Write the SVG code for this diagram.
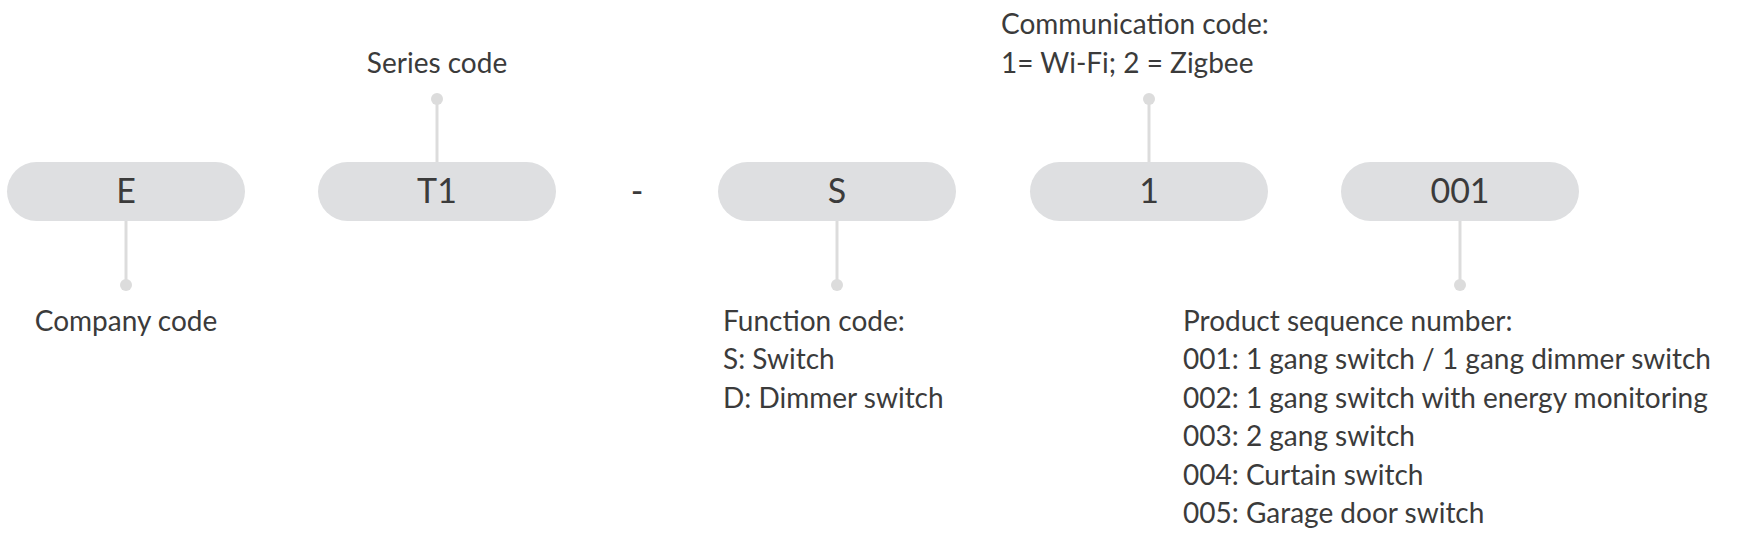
<svg xmlns="http://www.w3.org/2000/svg" width="1737" height="540" viewBox="0 0 1737 540">
<style>
.pill{fill:#dedfe1}
.code{font-family:Lato,"Liberation Sans",sans-serif;font-size:34px;fill:#3b3b3b;text-anchor:middle}
.lbl{font-family:Lato,"Liberation Sans",sans-serif;font-size:28px;fill:#3b3b3b}
.ln{stroke:#dcdcdc;stroke-width:3}
.dot{fill:#dcdcdc}
</style>
<rect width="1737" height="540" fill="#fff"/>
<g id="connectors">
<line class="ln" x1="126" y1="221" x2="126" y2="285"/><circle class="dot" cx="126" cy="285" r="6"/>
<line class="ln" x1="437" y1="162" x2="437" y2="99"/><circle class="dot" cx="437" cy="99" r="6"/>
<line class="ln" x1="837" y1="221" x2="837" y2="285"/><circle class="dot" cx="837" cy="285" r="6"/>
<line class="ln" x1="1149" y1="162" x2="1149" y2="99"/><circle class="dot" cx="1149" cy="99" r="6"/>
<line class="ln" x1="1460" y1="221" x2="1460" y2="285"/><circle class="dot" cx="1460" cy="285" r="6"/>
</g>
<g id="node-E"><rect class="pill" x="7" y="162" width="238" height="59" rx="29.5"/><text class="code" x="126" y="203">E</text></g>
<g id="node-T1"><rect class="pill" x="318" y="162" width="238" height="59" rx="29.5"/><text class="code" x="437" y="203">T1</text></g>
<g id="dash"><text class="code" x="637" y="203">-</text></g>
<g id="node-S"><rect class="pill" x="718" y="162" width="238" height="59" rx="29.5"/><text class="code" x="837" y="203">S</text></g>
<g id="node-1"><rect class="pill" x="1030" y="162" width="238" height="59" rx="29.5"/><text class="code" x="1149" y="203">1</text></g>
<g id="node-001"><rect class="pill" x="1341" y="162" width="238" height="59" rx="29.5"/><text class="code" x="1460" y="203">001</text></g>
<g id="labels">
<text class="lbl" x="126" y="331" text-anchor="middle">Company code</text>
<text class="lbl" x="437" y="73" text-anchor="middle">Series code</text>
<text class="lbl" x="1001" y="34">Communication code:</text>
<text class="lbl" x="1001" y="73">1= Wi-Fi; 2 = Zigbee</text>
<text class="lbl" x="723" y="331">Function code:</text>
<text class="lbl" x="723" y="369">S: Switch</text>
<text class="lbl" x="723" y="408">D: Dimmer switch</text>
<text class="lbl" x="1183" y="331">Product sequence number:</text>
<text class="lbl" x="1183" y="369">001: 1 gang switch / 1 gang dimmer switch</text>
<text class="lbl" x="1183" y="408">002: 1 gang switch with energy monitoring</text>
<text class="lbl" x="1183" y="446">003: 2 gang switch</text>
<text class="lbl" x="1183" y="485">004: Curtain switch</text>
<text class="lbl" x="1183" y="523">005: Garage door switch</text>
</g>
</svg>
